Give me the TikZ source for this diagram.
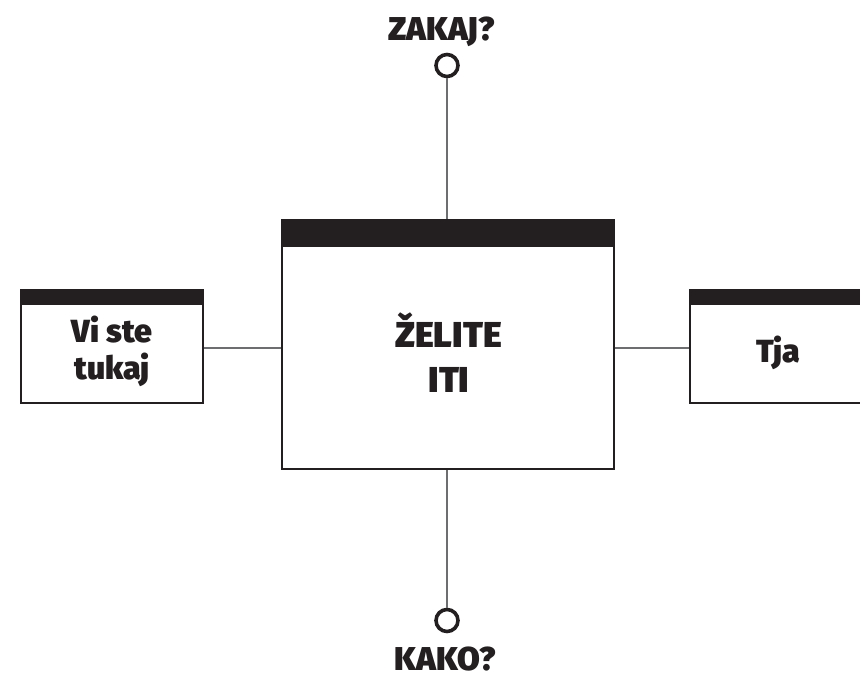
\documentclass[tikz,border=0pt]{standalone}
\usepackage{fontspec}
\setmainfont{Fira Sans}[BoldFont={Fira Sans Black}]
\definecolor{ink}{HTML}{231F20}
\definecolor{wire}{HTML}{6D6E70}
\begin{document}
\begin{tikzpicture}[x=1pt,y=-1pt,
  panel/.style={draw=ink,line width=1.1pt,fill=white,inner sep=0pt},
  bar/.style={fill=ink,draw=none},
  label/.style={font=\bfseries\fontsize{32}{37}\selectfont,text=ink,inner sep=0pt,anchor=base},
  biglabel/.style={label,font=\bfseries\fontsize{36}{45}\selectfont},
  caption/.style={label,font=\bfseries\fontsize{33}{37}\selectfont},
  ring/.style={circle,draw=ink,line width=3.6pt,minimum size=22pt,inner sep=0pt},
  wireline/.style={draw=wire,line width=1.2pt}]
\clip (0,0) rectangle (860,678);
\fill[white] (0,0) rectangle (860,678);

% central panel
\node[panel,minimum width=332pt,minimum height=249pt] (mid) at (448,344.5) {};
\fill[bar] (mid.north west) rectangle ([yshift=-28pt]mid.north east);
\node[biglabel] (midtxt1) at (448.5,347) {ŽELITE};
\node[biglabel] (midtxt2) at (449,392) {ITI};

% left panel
\node[panel,minimum width=182pt,minimum height=113pt] (left) at (112,346.5) {};
\fill[bar] (left.north west) rectangle ([yshift=-16pt]left.north east);
\node[label] (lefttxt1) at (112,342) {Vi ste};
\node[label] (lefttxt2) at (112,379) {tukaj};

% right panel (runs past the edge)
\node[panel,minimum width=182pt,minimum height=113pt] (right) at (781,346.5) {};
\fill[bar] (right.north west) rectangle ([yshift=-16pt]right.north east);
\node[label] (righttxt) at (778,362) {Tja};

% rings and their captions
\node[ring] (topc) at (447,65.5) {};
\node[ring] (botc) at (447,620.5) {};
\node[caption] (why) at (441.5,40) {ZAKAJ?};
\node[caption] (how) at (445,670) {KAKO?};

% connectors
\draw[wireline] (topc.south) -- (topc |- mid.north);
\draw[wireline] (botc.north) -- (botc |- mid.south);
\draw[wireline] (left.east |- 0,348) -- (mid.west |- 0,348);
\draw[wireline] (mid.east |- 0,348) -- (right.west |- 0,348);
\end{tikzpicture}
\end{document}
